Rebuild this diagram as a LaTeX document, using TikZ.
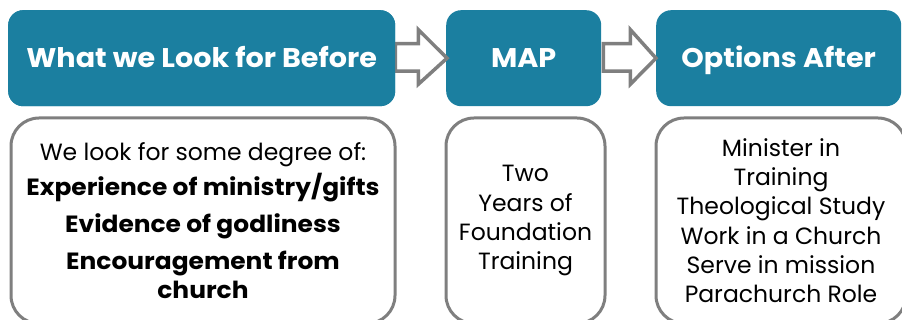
\documentclass[tikz,border=0pt]{standalone}
\usepackage{fontspec}
\setmainfont{Poppins}[BoldFeatures={FakeStretch=1.06}]
\usetikzlibrary{calc}
\definecolor{tealhead}{HTML}{1B7FA0}
\definecolor{grayline}{HTML}{7F7F7F}
\tikzset{
  headbox/.style={rectangle, rounded corners=15pt, fill=tealhead, text=white,
    font=\bfseries\fontsize{27}{30}\selectfont, minimum height=96pt, inner sep=0pt,
    text height=20pt, text depth=2pt, anchor=north west},
  bodybox/.style={rectangle, rounded corners=28pt, draw=grayline, line width=3pt, fill=white,
    align=center, minimum height=205.5pt, inner sep=0pt, anchor=north west,
    font=\fontsize{23.5}{29.3}\selectfont},
  blockarr/.style={draw=grayline, line width=3.5pt, fill=white, line join=miter}
}
\begin{document}
\begin{tikzpicture}[x=1pt,y=-1pt]
\useasboundingbox (0,0) rectangle (902,320);
% header boxes
\node[headbox, minimum width=387pt] (h1) at (8,10) {What we Look for Before};
\node[headbox, minimum width=155pt] (h2) at (446,10) {MAP};
\node[headbox, minimum width=245pt] (h3) at (656,10) {Options After};
% block arrows
\draw[blockarr] ($(h1.east)+(0,-14.5)$) -- ++(23,0) -- ++(0,-14) -- ($(h2.west)+(1,0)$)
  -- ($(h1.east)+(23,26)$) -- ++(0,-13) -- ++(-23,0) -- cycle;
\draw[blockarr] ($(h2.east)+(2,-14.5)$) -- ++(27,0) -- ++(0,-14) -- (h3.west)
  -- ($(h2.east)+(29,26)$) -- ++(0,-13) -- ++(-27,0) -- cycle;
\node[headbox, minimum width=387pt] at (8,10) {What we Look for Before};
% body boxes
\node[bodybox, minimum width=384pt] (b1) at (9.5,116.5) {%
  We look for some degree of:\\[6pt]
  \textbf{Experience of ministry/gifts}\\[7pt]
  \textbf{Evidence of godliness}\\[8pt]
  \textbf{Encouragement from}\\
  \textbf{church}};
\node[bodybox, minimum width=159pt] (b2) at (444.5,116.5) {%
  Two\\ Years of\\ Foundation\\ Training};
\node[bodybox, minimum width=250pt] (b3) at (654.5,116.5) {%
  Minister in\\ Training\\ Theological Study\\ Work in a Church\\ Serve in mission\\ Parachurch Role};
\end{tikzpicture}
\end{document}
